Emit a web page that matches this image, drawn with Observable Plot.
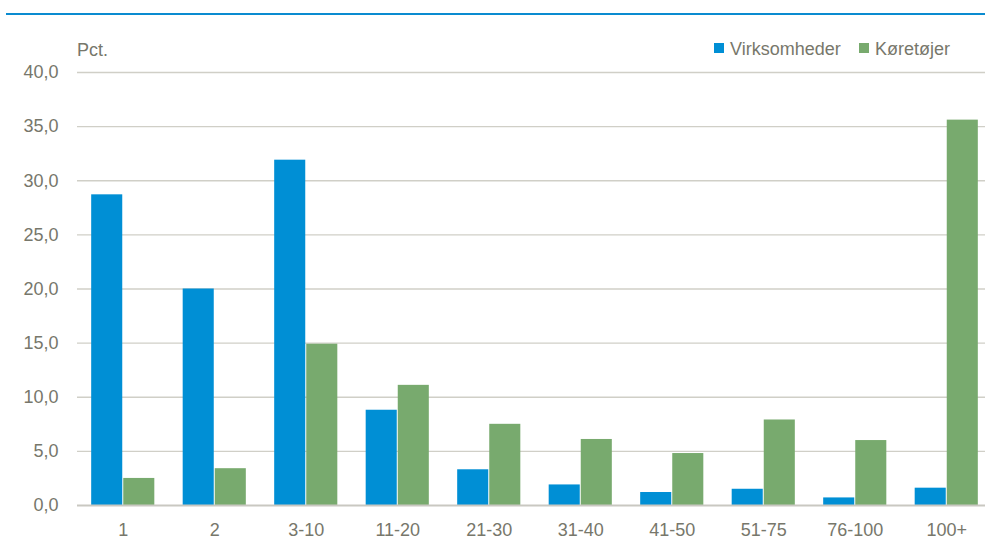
<!DOCTYPE html>
<html>
<head>
<meta charset="utf-8">
<script src="https://cdn.jsdelivr.net/npm/d3@7"></script>
<script src="https://cdn.jsdelivr.net/npm/@observablehq/plot@0.6"></script>
<style>
  html, body { margin: 0; padding: 0; background: #fff; overflow: hidden; }
  #chart { position: relative; width: 985px; height: 545px; overflow: hidden; }
  #chart svg { max-width: none !important; font-family: "Liberation Sans", Arial, sans-serif; }
</style>
</head>
<body>
<div id="chart"></div>
<script>
const categories = ["1", "2", "3-10", "11-20", "21-30", "31-40", "41-50", "51-75", "76-100", "100+"];
const virksomheder = [28.7, 20.0, 31.9, 8.8, 3.3, 1.9, 1.2, 1.5, 0.7, 1.6];
const koretojer = [2.5, 3.4, 14.9, 11.1, 7.5, 6.1, 4.8, 7.9, 6.0, 35.6];
const seriesNames = ["Virksomheder", "Køretøjer"];
const seriesColors = ["#008fd5", "#78aa6e"];
const yTicks = [0, 5, 10, 15, 20, 25, 30, 35, 40];

const textColor = "#77776b";
const fontSize = 18;

const W = 992, H = 545;
const mL = 77, mR = 0, mT = 72, mB = 40;
const padIn = 0.31, padOut = 0.155;
const step = (W - mL - mR) / (categories.length - padIn + 2 * padOut);
const bw = step * (1 - padIn);

const dataV = categories.map((c, i) => ({cat: c, value: virksomheder[i], series: seriesNames[0]}));
const dataK = categories.map((c, i) => ({cat: c, value: koretojer[i], series: seriesNames[1]}));
const fmt = d => d3.format(".1f")(d).replace(".", ",");

const plot = Plot.plot({
  width: W,
  height: H,
  marginLeft: mL,
  marginRight: mR,
  marginTop: mT,
  marginBottom: mB,
  style: {fontSize: fontSize + "px", color: textColor, background: "transparent", maxWidth: "none", overflow: "visible"},
  x: {domain: categories, paddingInner: padIn, paddingOuter: padOut, round: false, label: null, tickSize: 0, tickPadding: 18},
  y: {domain: [0, 40], ticks: yTicks, tickFormat: fmt, label: null, tickSize: 0, tickPadding: 19},
  color: {domain: seriesNames, range: seriesColors},
  marks: [
    Plot.ruleY(yTicks.filter(d => d > 0), {stroke: "#d0cfc7", strokeWidth: 1.3}),
    Plot.barY(dataV, {x: "cat", y: "value", fill: "series", insetRight: bw / 2 + 0.5}),
    Plot.barY(dataK, {x: "cat", y: "value", fill: "series", insetLeft: bw / 2 + 0.5}),
    Plot.ruleY([0], {stroke: "#c9c8c1", strokeWidth: 1.8})
  ]
});

document.getElementById("chart").appendChild(plot);

const svg = d3.select(plot);
svg.append("line").attr("x1", 6).attr("x2", 985).attr("y1", 14).attr("y2", 14)
  .attr("stroke", "#0a8bd0").attr("stroke-width", 2);
svg.append("text").attr("x", 77).attr("y", 56).attr("fill", textColor)
  .attr("text-anchor", "start").style("font-size", fontSize + "px").text("Pct.");

const legendX = [714, 859];
seriesNames.forEach((name, i) => {
  svg.append("rect").attr("x", legendX[i]).attr("y", 43).attr("width", 10).attr("height", 10)
    .attr("fill", seriesColors[i]);
  svg.append("text").attr("x", legendX[i] + 16).attr("y", 55).attr("fill", textColor)
    .attr("text-anchor", "start").style("font-size", fontSize + "px").text(name);
});
</script>
</body>
</html>
